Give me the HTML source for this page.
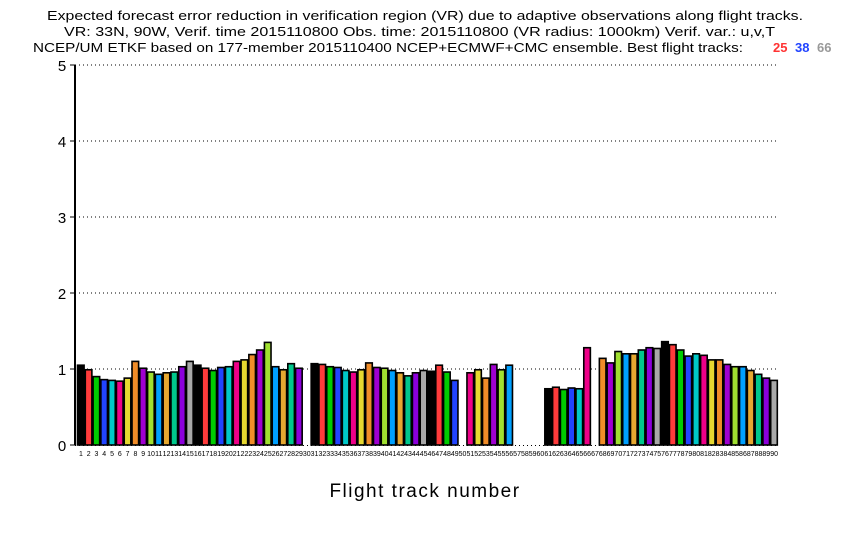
<!DOCTYPE html>
<html><head><meta charset="utf-8"><style>
html,body{margin:0;padding:0;background:#fff;}
svg{display:block;font-family:"Liberation Sans",sans-serif;}
</style></head><body>
<svg id="chart" width="850" height="540" viewBox="0 0 850 540">
<text x="47" y="20" font-size="13" textLength="756" lengthAdjust="spacingAndGlyphs">Expected forecast error reduction in verification region (VR) due to adaptive observations along flight tracks.</text>
<text x="64" y="36" font-size="13" textLength="711" lengthAdjust="spacingAndGlyphs">VR: 33N, 90W, Verif. time 2015110800 Obs. time: 2015110800 (VR radius: 1000km)  Verif. var.: u,v,T</text>
<text x="33" y="52" font-size="13" textLength="710" lengthAdjust="spacingAndGlyphs">NCEP/UM ETKF based on 177-member 2015110400 NCEP+ECMWF+CMC ensemble. Best flight tracks:</text>
<text x="773" y="52" font-size="13" font-weight="bold" fill="#ff3333">25</text>
<text x="795" y="52" font-size="13" font-weight="bold" fill="#2244ff">38</text>
<text x="817" y="52" font-size="13" font-weight="bold" fill="#999999">66</text>
<g id="grid"></g>
<g id="bars"></g>
<g id="axes"></g>
<text x="425" y="497" font-size="19" text-anchor="middle" letter-spacing="1.5">Flight track number</text>
</svg>
<script>
const trackNumbers = Array.from({length:90},(_,i)=>i+1);
const errorReduction = [
1.05,0.99,0.90,0.86,0.85,0.84,0.88,1.10,1.01,0.96,
0.93,0.95,0.96,1.03,1.10,1.05,1.01,0.98,1.02,1.03,
1.10,1.12,1.19,1.25,1.35,1.03,0.99,1.07,1.01,0,
1.07,1.06,1.03,1.02,0.98,0.96,0.99,1.08,1.02,1.01,
0.98,0.95,0.91,0.95,0.98,0.97,1.05,0.96,0.85,0,
0.95,0.99,0.88,1.06,0.99,1.05,0,0,0,0,
0.74,0.76,0.73,0.75,0.74,1.28,0,1.14,1.08,1.23,
1.20,1.20,1.25,1.28,1.27,1.36,1.32,1.25,1.17,1.20,
1.18,1.12,1.12,1.06,1.03,1.03,0.98,0.93,0.88,0.85];
const yTicks = [0,1,2,3,4,5];
const palette = ["#000000","#ff3b3b","#00cc00","#2244ff","#00c8c8","#ee0088","#e6d830","#f08c28","#a000d0","#a0e030","#00a0ff","#e6a830","#00c88c","#8c00dc","#a8a8a8"];
const X0=77, X1=778, Y0=445, YTOP=65, YMAX=5;
const slot=(X1-X0)/trackNumbers.length;
const xs=i=>X0+i*slot;
const ys=v=>Y0-(v/YMAX)*(Y0-YTOP);
const NS="http://www.w3.org/2000/svg";
function mk(tag,attrs,parent){const e=document.createElementNS(NS,tag);for(const k in attrs)e.setAttribute(k,attrs[k]);parent.appendChild(e);return e;}
const grid=document.getElementById('grid'),bars=document.getElementById('bars'),axes=document.getElementById('axes');
yTicks.forEach(t=>{
  if(t>0){const g=mk('line',{x1:75,x2:X1,y1:ys(t),y2:ys(t),stroke:'#000','stroke-width':1,'stroke-dasharray':'1,3'},grid);
  
  }
  const lb=mk('text',{x:62,y:ys(t)+6,'font-size':15,'text-anchor':'middle'},axes);
  lb.textContent=t;
  
  
  const tk=mk('line',{x1:70,x2:75,y1:ys(t),y2:ys(t),stroke:'#000'},axes);
  
  
});
errorReduction.forEach((v,i)=>{
  if(v>0){
    const r=mk('rect',{x:xs(i)+0.5,y:ys(v),width:slot-1.2,height:Y0-ys(v),fill:palette[i%15],stroke:'#000','stroke-width':1.6},bars);
    
    
  }
  const t=mk('text',{x:xs(i)+slot/2,y:456,'font-size':7,'text-anchor':'middle'},axes);
  t.textContent=trackNumbers[i];
  
  
});
const ya=mk('line',{x1:75,x2:75,y1:YTOP,y2:Y0,stroke:'#000','stroke-width':2},axes);


const xa=mk('line',{x1:75,x2:X1,y1:Y0+0.5,y2:Y0+0.5,stroke:'#000','stroke-width':1,'stroke-dasharray':'1,3'},axes);


</script>
</body></html>
